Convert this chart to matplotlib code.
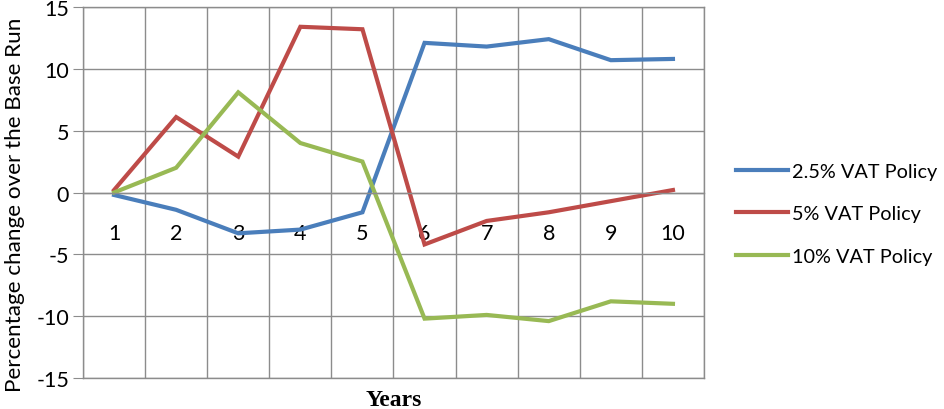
import numpy as np
import matplotlib.pyplot as plt
from matplotlib.ticker import MultipleLocator

plt.rcParams["axes.unicode_minus"] = False

# years 1..10, percent change vs base run
years = [1, 2, 3, 4, 5, 6, 7, 8, 9, 10]
vat_25 = [-0.2, -1.4, -3.3, -3.0, -1.6, 12.1, 11.8, 12.4, 10.7, 10.8]
vat_5 = [0.2, 6.1, 2.9, 13.4, 13.2, -4.2, -2.3, -1.6, -0.7, 0.2]
vat_10 = [0.0, 2.0, 8.1, 4.0, 2.5, -10.2, -9.9, -10.4, -8.8, -9.0]
names = ["2.5% VAT Policy", "5% VAT Policy", "10% VAT Policy"]
colors = ["#4A7EBB", "#BE4B48", "#98B954"]

grid_c = "#8c8c8c"
fnt = "Lato"
fs = 15.5

fig = plt.figure(figsize=(9.45, 4.1), dpi=100)
ax = fig.add_axes([83/945, 1-379/410, (704-83)/945, (379-8)/410])

for vals, nm, c in zip([vat_25, vat_5, vat_10], names, colors):
    ax.plot(years, vals, color=c, lw=3.0, label=nm, solid_joinstyle="miter")

ax.set_xlim(0.5, 10.5)
ax.set_ylim(-15, 15)
ax.yaxis.set_major_locator(MultipleLocator(5))
ax.set_xticks(years, [str(y) for y in years])
ax.set_xticks(np.arange(0.5, 11, 1), minor=True)

ax.grid(True, axis="y", which="major", color=grid_c, lw=1)
ax.grid(True, axis="x", which="minor", color=grid_c, lw=1)
ax.set_axisbelow(True)
ax.axhline(-15, color=grid_c, lw=1, clip_on=False, zorder=0)

ax.spines["bottom"].set_position(("data", 0))
for s in ax.spines.values():
    s.set_color(grid_c)
    s.set_linewidth(1)

ax.tick_params(axis="x", which="major", length=0, pad=22, labelsize=fs)
ax.tick_params(axis="x", which="minor", length=0)
ax.tick_params(axis="y", length=7, color=grid_c, labelsize=fs, pad=3)
for lab in ax.get_xticklabels() + ax.get_yticklabels():
    lab.set_fontfamily(fnt)

ax.set_ylabel("Percentage change over the Base Run", fontsize=16.2, family=fnt)
ax.yaxis.set_label_coords(-58/621, (379-205)/371)
fig.text(394/945, 1-401/410, "Years", ha="center", va="center",
         fontsize=17, fontweight="bold", family="Liberation Serif")

leg = fig.legend(loc="upper left", bbox_to_anchor=(728/945, 1-156/410), frameon=False,
                 prop={"family": fnt, "size": 14.3}, handlelength=2.6, handletextpad=0.2,
                 labelspacing=1.28, borderaxespad=0)

plt.savefig("out.png", dpi=100)
plt.close()
